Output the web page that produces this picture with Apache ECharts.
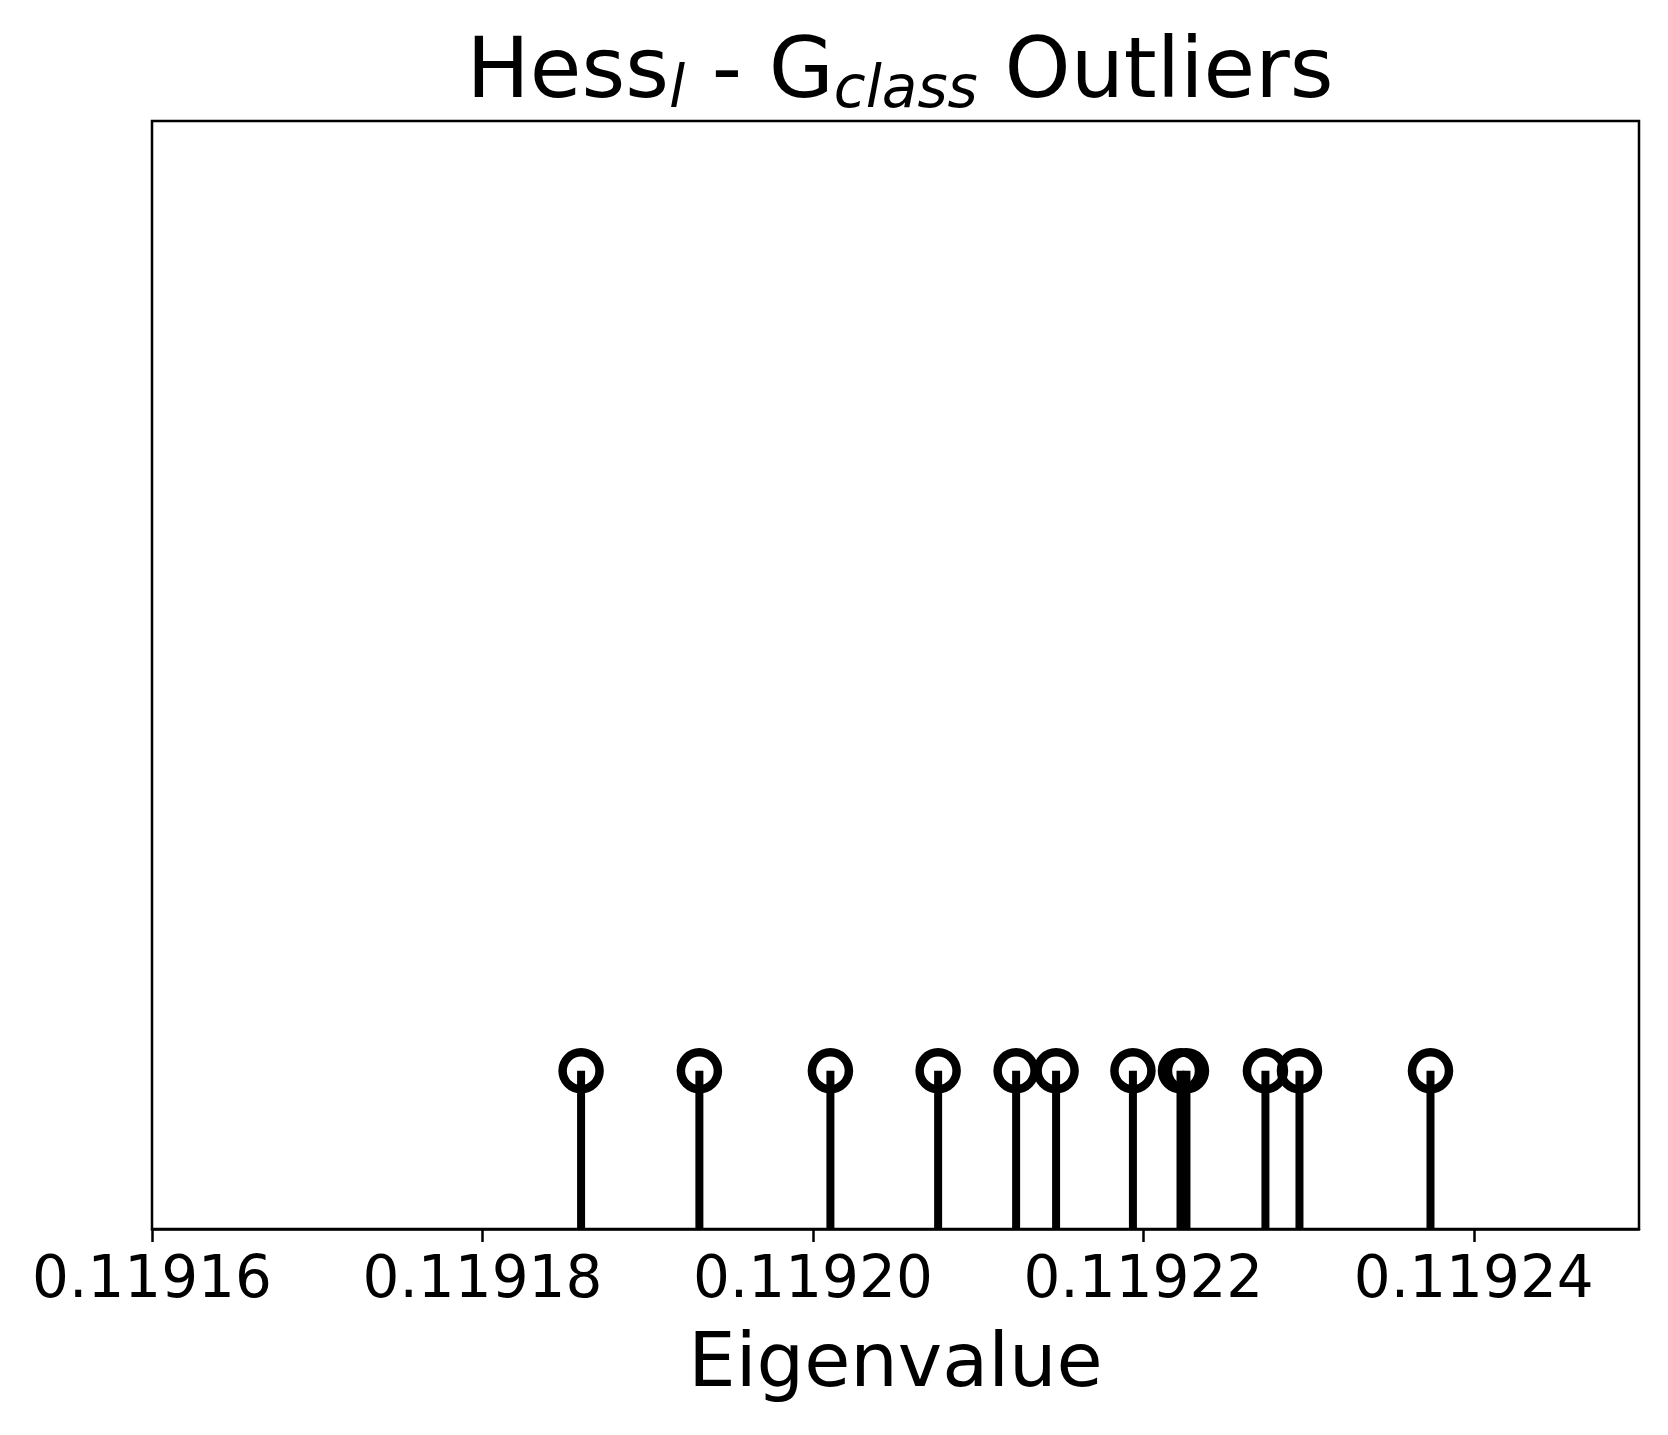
<!DOCTYPE html>
<html>
<head>
<meta charset="utf-8">
<script src="https://cdn.jsdelivr.net/npm/echarts@6/dist/echarts.min.js"></script>
<style>
html,body{margin:0;padding:0;background:#fff;}
#chart{width:1668px;height:1435px;}
</style>
</head>
<body>
<div id="chart"></div>
<script>
// Data
const eigenvalues = [0.11918597, 0.11919313, 0.11920106, 0.11920758, 0.11921230, 0.11921472,
  0.11921937, 0.11922225, 0.11922261, 0.11922739, 0.11922945, 0.11923738];
const stemHeights = [1, 1, 1, 1, 1, 1, 1, 1, 1, 1, 1, 1];
const xTickValues = [0.11916, 0.11918, 0.11920, 0.11922, 0.11924];
const xMin = 0.11916, xMax = 0.11925, xStep = 0.00002;
const yMin = 0, yMax = 7;

const points = eigenvalues.map((v, i) => [v, stemHeights[i]]);
const FONT = '"DejaVu Sans", sans-serif';

const chart = echarts.init(document.getElementById('chart'), null, {renderer: 'canvas'});
chart.setOption({
  backgroundColor: '#fff',
  animation: false,
  title: {
    text: '{a|Hess}{s|l}{a| - G}{s|class}{a| Outliers}',
    left: 895,
    textAlign: 'center',
    top: 28,
    textStyle: {
      fontWeight: 'normal',
      rich: {
        a: {fontFamily: FONT, fontSize: 84, fontWeight: 'normal', color: '#000', lineHeight: 100, verticalAlign: 'top'},
        s: {fontFamily: FONT, fontSize: 58, fontStyle: 'italic', fontWeight: 'normal', color: '#000', lineHeight: 58, padding: [30, 0, 0, 0], verticalAlign: 'top'}
      }
    }
  },
  grid: {left: 152, right: 29, top: 121, bottom: 206, show: true, borderColor: '#000', borderWidth: 2.5, backgroundColor: '#fff'},
  xAxis: {
    type: 'value',
    min: xMin, max: xMax, interval: xStep,
    name: 'Eigenvalue',
    nameLocation: 'middle',
    nameGap: 100,
    nameTextStyle: {fontFamily: FONT, fontSize: 75, color: '#000'},
    axisLine: {show: true, lineStyle: {color: '#000', width: 2.5}},
    axisTick: {show: true, length: 13, lineStyle: {color: '#000', width: 2.5}},
    axisLabel: {
      fontFamily: FONT, fontSize: 58, color: '#000', margin: 24,
      showMaxLabel: false,
      formatter: function (v) {
        for (const t of xTickValues) { if (Math.abs(v - t) < 1e-9) return t.toFixed(5); }
        return '';
      }
    },
    splitLine: {show: false}
  },
  yAxis: {
    type: 'value', min: yMin, max: yMax,
    axisLine: {show: false}, axisTick: {show: false}, axisLabel: {show: false}, splitLine: {show: false}
  },
  series: [
    {
      type: 'custom',
      data: points,
      clip: false,
      renderItem: function (params, api) {
        const top = api.coord([api.value(0), api.value(1)]);
        const base = api.coord([api.value(0), 0]);
        return {
          type: 'line',
          shape: {x1: base[0], y1: base[1], x2: top[0], y2: top[1]},
          style: {stroke: '#000', lineWidth: 8}
        };
      },
      z: 2
    },
    {
      type: 'scatter',
      data: points,
      symbol: 'circle',
      symbolSize: 37,
      itemStyle: {color: 'rgba(0,0,0,0)', borderColor: '#000', borderWidth: 8.5, opacity: 1},
      z: 3
    }
  ]
});
</script>
</body>
</html>
